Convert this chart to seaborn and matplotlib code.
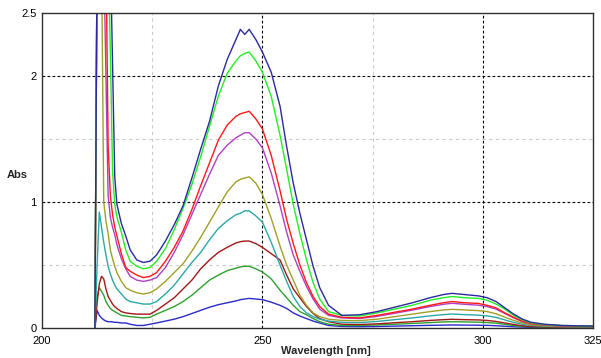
import numpy as np
import pandas as pd
import matplotlib
matplotlib.use("Agg")
import matplotlib.pyplot as plt
import seaborn as sns

# Wavelength grid (nm)
wavelength = [212, 212.5, 213, 213.5, 214, 214.5, 215, 215.5, 216, 216.5, 217,
              218, 219, 220, 221.5, 223, 224.5, 226, 228, 230, 232, 234, 236,
              238, 240, 242, 244, 245, 246, 247, 248.5, 250, 252, 254, 255.5,
              257, 258.5, 260, 261.5, 263, 265, 268, 272, 276, 280, 284, 288,
              291, 293, 296, 299, 301, 303, 305, 307, 309, 311, 314, 318, 325]

abs_navy = [0.0, 3.0, 3.0, 3.0, 3.0, 3.0, 3.0, 3.0, 2.1, 1.2, 0.98,
            0.83, 0.73, 0.62, 0.54, 0.52, 0.53, 0.58, 0.69, 0.82, 0.97, 1.19, 1.42,
            1.64, 1.92, 2.13, 2.29, 2.37, 2.33, 2.37, 2.29, 2.19, 2.03, 1.76, 1.44,
            1.15, 0.91, 0.70, 0.49, 0.32, 0.18, 0.10, 0.105, 0.13, 0.165, 0.20, 0.24,
            0.265, 0.275, 0.265, 0.255, 0.24, 0.21, 0.16, 0.11, 0.07, 0.045, 0.03, 0.02, 0.015]

abs_lime = [0.0, 3.0, 3.0, 3.0, 3.0, 3.0, 3.0, 2.2, 1.25, 0.98, 0.88,
            0.76, 0.62, 0.53, 0.49, 0.47, 0.48, 0.53, 0.63, 0.78, 0.95, 1.14, 1.36,
            1.60, 1.84, 2.02, 2.12, 2.16, 2.18, 2.19, 2.12, 2.03, 1.84, 1.53, 1.26,
            0.98, 0.75, 0.54, 0.36, 0.23, 0.13, 0.10, 0.095, 0.12, 0.15, 0.18, 0.22,
            0.24, 0.25, 0.24, 0.235, 0.22, 0.19, 0.15, 0.10, 0.065, 0.04, 0.027, 0.02, 0.015]

abs_red = [0.0, 3.0, 3.0, 3.0, 3.0, 3.0, 1.45, 1.05, 0.90, 0.80, 0.73,
           0.59, 0.48, 0.45, 0.42, 0.40, 0.41, 0.44, 0.53, 0.64, 0.77, 0.94, 1.13,
           1.31, 1.49, 1.61, 1.68, 1.70, 1.71, 1.72, 1.66, 1.58, 1.37, 1.09, 0.86,
           0.67, 0.50, 0.36, 0.25, 0.17, 0.11, 0.085, 0.08, 0.10, 0.125, 0.15, 0.18,
           0.20, 0.21, 0.20, 0.195, 0.18, 0.16, 0.12, 0.085, 0.055, 0.035, 0.025, 0.018, 0.012]

abs_purple = [0.0, 3.0, 3.0, 3.0, 3.0, 2.0, 1.05, 0.88, 0.80, 0.74, 0.66,
              0.55, 0.47, 0.41, 0.38, 0.37, 0.38, 0.40, 0.48, 0.60, 0.74, 0.90, 1.06,
              1.22, 1.37, 1.45, 1.51, 1.53, 1.55, 1.55, 1.50, 1.43, 1.23, 0.97, 0.76,
              0.58, 0.45, 0.33, 0.23, 0.15, 0.10, 0.08, 0.075, 0.092, 0.117, 0.142, 0.17,
              0.188, 0.196, 0.188, 0.181, 0.17, 0.15, 0.115, 0.08, 0.05, 0.033, 0.022, 0.016, 0.012]

abs_olive = [0.0, 3.0, 3.0, 3.0, 1.0, 0.85, 0.75, 0.62, 0.55, 0.49, 0.44,
             0.37, 0.32, 0.30, 0.28, 0.27, 0.28, 0.31, 0.37, 0.44, 0.51, 0.61, 0.72,
             0.84, 0.96, 1.08, 1.16, 1.18, 1.19, 1.20, 1.15, 1.06, 0.87, 0.65, 0.50,
             0.38, 0.26, 0.18, 0.12, 0.09, 0.07, 0.06, 0.058, 0.07, 0.09, 0.11, 0.13,
             0.143, 0.148, 0.143, 0.138, 0.13, 0.113, 0.086, 0.06, 0.04, 0.025, 0.017, 0.012, 0.01]

abs_teal = [0.0, 0.5, 0.92, 0.80, 0.68, 0.58, 0.49, 0.43, 0.38, 0.34, 0.31,
            0.27, 0.23, 0.21, 0.20, 0.19, 0.19, 0.21, 0.27, 0.34, 0.43, 0.52, 0.60,
            0.70, 0.79, 0.85, 0.90, 0.91, 0.93, 0.93, 0.89, 0.84, 0.68, 0.50, 0.37,
            0.25, 0.17, 0.12, 0.09, 0.07, 0.055, 0.045, 0.043, 0.052, 0.066, 0.08, 0.096,
            0.106, 0.111, 0.106, 0.102, 0.096, 0.084, 0.064, 0.044, 0.03, 0.02, 0.014, 0.01, 0.008]

abs_darkred = [0.0, 0.2, 0.35, 0.41, 0.39, 0.31, 0.25, 0.22, 0.19, 0.17, 0.155,
               0.13, 0.12, 0.115, 0.11, 0.11, 0.11, 0.14, 0.19, 0.24, 0.31, 0.38, 0.47,
               0.54, 0.60, 0.64, 0.675, 0.685, 0.69, 0.69, 0.67, 0.64, 0.59, 0.54, 0.42,
               0.31, 0.24, 0.17, 0.115, 0.075, 0.05, 0.03, 0.028, 0.033, 0.042, 0.05, 0.06,
               0.066, 0.069, 0.066, 0.064, 0.06, 0.052, 0.04, 0.028, 0.018, 0.012, 0.009, 0.007, 0.005]

abs_green = [0.0, 0.25, 0.32, 0.29, 0.26, 0.21, 0.18, 0.155, 0.14, 0.13, 0.12,
             0.10, 0.095, 0.09, 0.085, 0.08, 0.085, 0.11, 0.14, 0.17, 0.21, 0.26, 0.32,
             0.38, 0.42, 0.455, 0.475, 0.485, 0.49, 0.49, 0.47, 0.445, 0.39, 0.30, 0.24,
             0.18, 0.13, 0.105, 0.075, 0.05, 0.03, 0.02, 0.02, 0.024, 0.03, 0.036, 0.043,
             0.048, 0.05, 0.048, 0.046, 0.043, 0.038, 0.029, 0.02, 0.014, 0.01, 0.008, 0.006, 0.005]

abs_blue = [0.0, 0.14, 0.10, 0.08, 0.065, 0.055, 0.05, 0.05, 0.048, 0.045, 0.045,
            0.04, 0.04, 0.03, 0.02, 0.02, 0.03, 0.04, 0.055, 0.07, 0.09, 0.115, 0.14,
            0.165, 0.185, 0.20, 0.215, 0.225, 0.23, 0.235, 0.23, 0.225, 0.205, 0.18, 0.155,
            0.12, 0.095, 0.075, 0.055, 0.04, 0.02, 0.012, 0.01, 0.012, 0.015, 0.018, 0.021,
            0.023, 0.024, 0.023, 0.022, 0.021, 0.018, 0.014, 0.01, 0.007, 0.005, 0.004, 0.003, 0.003]

series_names = ["s1", "s2", "s3", "s4", "s5", "s6", "s7", "s8", "s9"]
series_values = [abs_blue, abs_green, abs_darkred, abs_teal, abs_olive,
                 abs_purple, abs_red, abs_lime, abs_navy]
series_colors = ["#2a2ac8", "#2ea02e", "#a01818", "#2aa8a8", "#a0a028",
                 "#b040c0", "#ff1818", "#22ee22", "#2a2aa0"]

x_ticks = [200, 250, 300, 325]
y_ticks = [0, 1, 2, 2.5]
y_tick_labels = ["0", "1", "2", "2.5"]

rows = []
for name, vals in zip(series_names, series_values):
    for w, a in zip(wavelength, vals):
        rows.append((name, w, a))
df = pd.DataFrame(rows, columns=["series", "wavelength", "abs"])

sns.set_theme(style="white")
plt.rcParams["font.family"] = ["Liberation Sans", "DejaVu Sans"]

fig = plt.figure(figsize=(6.01, 3.58), dpi=100)
ax = fig.add_axes([0.0699, 0.0838, 0.9168, 0.8799])

# grid
for xv in [225, 275]:
    ax.axvline(xv, color="#cccccc", lw=0.8, ls=(0, (3, 3)), zorder=0)
for yv in [0.5, 1.5]:
    ax.axhline(yv, color="#cccccc", lw=0.8, ls=(0, (3, 3)), zorder=0)
for xv in [250, 300]:
    ax.axvline(xv, color="#000000", lw=0.8, ls=(0, (2.5, 2)), zorder=0)
for yv in [1, 2]:
    ax.axhline(yv, color="#000000", lw=0.8, ls=(0, (2.5, 2)), zorder=0)

sns.lineplot(data=df, x="wavelength", y="abs", hue="series",
             palette=dict(zip(series_names, series_colors)),
             hue_order=series_names, estimator=None, sort=False,
             linewidth=1.0, legend=False, ax=ax)

ax.set_xlim(200, 325)
ax.set_ylim(0, 2.5)
ax.set_xticks(x_ticks)
ax.set_xticklabels([str(t) for t in x_ticks])
ax.set_yticks(y_ticks)
ax.set_yticklabels(y_tick_labels)
ax.tick_params(axis="x", length=0, labelsize=8, colors="#000000", pad=6)
ax.tick_params(axis="y", length=0, labelsize=8, colors="#000000", pad=4)
ax.set_xlabel("Wavelength [nm]", fontsize=8, fontweight="bold")
ax.xaxis.set_label_coords(0.516, -0.058)
ax.set_ylabel("Abs", fontsize=8, fontweight="bold", rotation=0)
ax.yaxis.set_label_coords(-0.045, 0.47)
for sp in ax.spines.values():
    sp.set_color("#303030")
    sp.set_linewidth(1.0)
    sp.set_visible(True)

fig.savefig("out.png", dpi=100, facecolor="white")
